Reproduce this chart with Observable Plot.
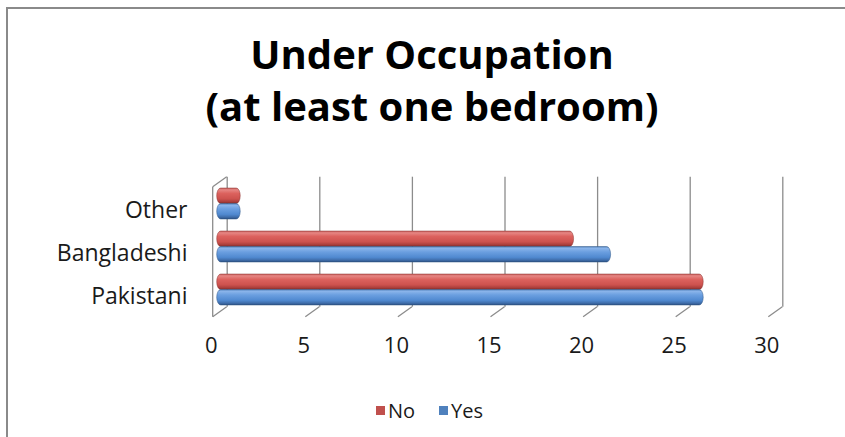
<!DOCTYPE html>
<html>
<head>
<meta charset="utf-8">
<script src="https://cdn.jsdelivr.net/npm/d3@7"></script>
<script src="https://cdn.jsdelivr.net/npm/@observablehq/plot@0.6"></script>
<style>
html, body { margin: 0; padding: 0; background: #fff; }
#wrap { position: relative; width: 845px; height: 437px; overflow: hidden; font-family: "Open Sans", sans-serif; }
#frame { position: absolute; left: 6px; top: 7px; width: 900px; height: 500px; border: 2px solid #8a8a8a; box-sizing: border-box; }
#chart { position: absolute; left: 0; top: 0; }
#title { position: absolute; left: 0; top: 28px; width: 864px; text-align: center; font-weight: 700; font-size: 40px; line-height: 52px; color: #000; white-space: nowrap; }
#legend { position: absolute; left: 376px; top: 401px; font-size: 20px; line-height: 20px; color: #1a1a1a; white-space: nowrap; }
#legend .sw { display: inline-block; width: 9px; height: 9px; vertical-align: 3px; margin-right: 3px; }
#legend .item { margin-right: 24px; }
</style>
</head>
<body>
<div id="wrap">
  <div id="frame"></div>
  <div id="chart"></div>
  <div id="title">Under Occupation<br>(at least one bedroom)</div>
  <div id="legend"></div>
</div>
<script>
// ---- data ----
const categories = ["Other", "Bangladeshi", "Pakistani"];
const seriesNames = ["No", "Yes"];
const noValues = [1, 19, 26];
const yesValues = [1, 21, 26];
const xTicks = [0, 5, 10, 15, 20, 25, 30];
const seriesColors = ["#c0504d", "#4f81bd"];

const gridColor = "#8c8c8c";
const depthX = 7, depthY = 5;

const rows = [];
categories.forEach((c, i) => {
  rows.push({category: c, series: "No", value: noValues[i]});
  rows.push({category: c, series: "Yes", value: yesValues[i]});
});

// floor diagonals + left wall drawn with the plot's x scale
function wallMark(index, scales, values, dimensions) {
  const x = scales.x;
  const yt = dimensions.marginTop;
  const yb = dimensions.height - dimensions.marginBottom;
  const g = d3.create("svg:g").attr("fill", "none").attr("stroke", gridColor).attr("stroke-width", 1.3);
  for (const t of xTicks) {
    g.append("line").attr("x1", x(t) - depthX).attr("y1", yb + depthY).attr("x2", x(t) + depthX).attr("y2", yb - depthY);
  }
  const x0 = x(xTicks[0]);
  g.append("line").attr("x1", x0 - depthX).attr("y1", yt + depthY).attr("x2", x0 - depthX).attr("y2", yb + depthY);
  g.append("line").attr("x1", x0 - depthX).attr("y1", yt + depthY).attr("x2", x0 + depthX).attr("y2", yt - depthY);
  return g.node();
}

const bw = 31; // band width of a category pair
const chart = Plot.plot({
  width: 845,
  height: 437,
  marginLeft: 219.7,
  marginRight: 69.7,
  marginTop: 181.7,
  marginBottom: 125.3,
  style: {fontFamily: "'Open Sans', sans-serif", fontSize: "22px", color: "#1a1a1a", background: "transparent"},
  x: {domain: [0, 30], axis: null},
  y: {domain: categories, axis: null, paddingInner: 0.287, paddingOuter: 0.138},
  marks: [
    Plot.ruleX(xTicks, {x: d => d, dx: depthX, dy: -depthY, stroke: gridColor, strokeWidth: 1.3}),
    wallMark,
    Plot.barX(rows.filter(d => d.series === "No"), {
      x: "value", y: "category", fill: "url(#gradNo)", insetBottom: bw / 2, insetLeft: -3, insetRight: -2,
      rx: 4, ry: 7.75, stroke: "#8a3532", strokeWidth: 0.7, strokeOpacity: 0.7
    }),
    Plot.barX(rows.filter(d => d.series === "Yes"), {
      x: "value", y: "category", fill: "url(#gradYes)", insetTop: bw / 2, insetLeft: -3, insetRight: -2,
      rx: 4, ry: 7.75, stroke: "#2f5585", strokeWidth: 0.7, strokeOpacity: 0.7
    }),
    Plot.text(categories, {y: d => d, frameAnchor: "left", textAnchor: "end", dx: -32.7, dy: 7, fontSize: 23, fill: "#1a1a1a"}),
    Plot.text(xTicks, {x: d => d, frameAnchor: "bottom", dx: -9, dy: 41, fontSize: 22, fill: "#1a1a1a"})
  ]
});

const svg = d3.select(chart);
const defs = svg.insert("defs", ":first-child");
function grad(id, stops) {
  const lg = defs.append("linearGradient").attr("id", id).attr("x1", 0).attr("y1", 0).attr("x2", 0).attr("y2", 1);
  for (const [o, c] of stops) lg.append("stop").attr("offset", o).attr("stop-color", c);
}
grad("gradNo", [[0, "#c45a57"], [0.12, "#e68683"], [0.35, "#dc625e"], [0.7, "#cd524e"], [0.88, "#ab3f3c"], [1, "#7e2c2a"]]);
grad("gradYes", [[0, "#5584bd"], [0.12, "#8ab4ea"], [0.35, "#6b9fe0"], [0.7, "#5089d0"], [0.88, "#3f6daa"], [1, "#2b4f80"]]);

document.getElementById("chart").appendChild(chart);

// legend
const legend = d3.select("#legend");
seriesNames.forEach((s, i) => {
  const item = legend.append("span").attr("class", "item");
  item.append("span").attr("class", "sw").style("background", seriesColors[i]);
  item.append("span").text(s);
});
</script>
</body>
</html>
